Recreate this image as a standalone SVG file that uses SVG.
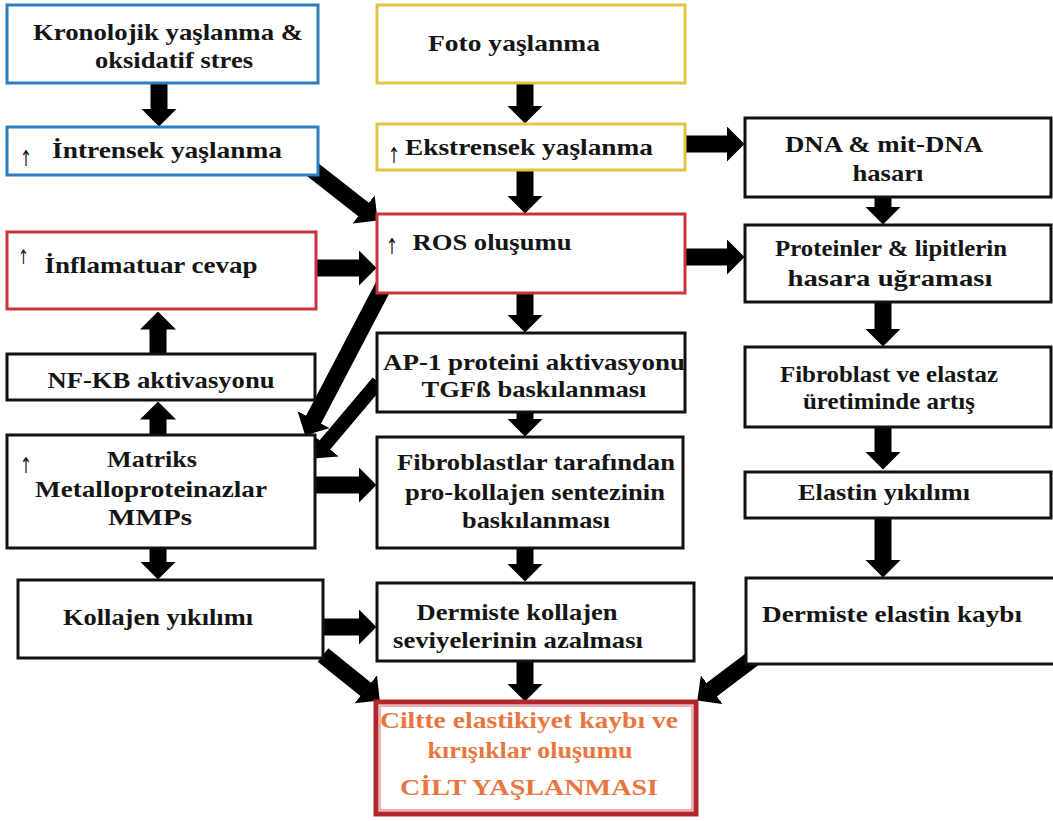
<svg xmlns="http://www.w3.org/2000/svg" width="1053" height="821" viewBox="0 0 1053 821">
<style>
.bx{fill:#fff;stroke:#111;stroke-width:3}
.blue{fill:#fff;stroke:#2d7dbf;stroke-width:3}
.yel{fill:#fff;stroke:#e3c443;stroke-width:3}
.red{fill:#fff;stroke:#c8343c;stroke-width:3}
.t{font-family:"Liberation Serif","Times New Roman",serif;font-weight:bold;font-size:23px;fill:#151515;text-anchor:middle}
.up{font-family:"DejaVu Sans",sans-serif;font-size:22px;fill:#151515}
.o{font-family:"Liberation Serif","Times New Roman",serif;font-weight:bold;font-size:23px;fill:#e8773f;text-anchor:middle}
.a{stroke:#000;stroke-width:17;fill:none;marker-end:url(#ah)}
</style>
<defs>
<marker id="ah" markerUnits="userSpaceOnUse" markerWidth="18" markerHeight="36" viewBox="0 0 18 36" refX="0.5" refY="18" orient="auto">
<path d="M0,0 L18,18 L0,36 z" fill="#000"/>
</marker>
</defs>
<rect width="1053" height="821" fill="#fff"/>

<g id="connectors">
<line class="a" x1="159" y1="83" x2="159" y2="109"/>
<line class="a" x1="525" y1="83" x2="525" y2="106"/>
<line class="a" x1="525" y1="170" x2="525" y2="196"/>
<line class="a" x1="525" y1="293" x2="525" y2="315"/>
<line class="a" x1="525" y1="412" x2="525" y2="419"/>
<line class="a" x1="525" y1="548" x2="525" y2="564"/>
<line class="a" x1="525" y1="661" x2="525" y2="684"/>
<line class="a" x1="158" y1="548" x2="158" y2="562"/>
<line class="a" x1="883" y1="197" x2="883" y2="207"/>
<line class="a" x1="883" y1="302" x2="883" y2="329"/>
<line class="a" x1="883" y1="427" x2="883" y2="452"/>
<line class="a" x1="883" y1="518" x2="883" y2="560"/>
<line class="a" x1="158" y1="353" x2="158" y2="329"/>
<line class="a" x1="158" y1="435" x2="158" y2="419"/>
<line class="a" x1="684" y1="144" x2="727" y2="144"/>
<line class="a" x1="685" y1="257" x2="727" y2="257"/>
<line class="a" x1="315" y1="268" x2="359" y2="268"/>
<line class="a" x1="315" y1="485" x2="359" y2="485"/>
<line class="a" x1="323" y1="627" x2="359" y2="627"/>
<line class="a" x1="308" y1="166" x2="363.9" y2="209.8"/>
<line class="a" x1="384" y1="285" x2="313.3" y2="420.1"/>
<line class="a" x1="378" y1="382" x2="324.6" y2="445.2" style="stroke-width:14"/>
<line class="a" x1="323" y1="655" x2="366.1" y2="689.6"/>
<line class="a" x1="755" y1="657" x2="711.3" y2="690"/>
</g>

<g id="kronolojik">
<rect class="blue" x="7" y="5" width="311" height="78"/>
<text class="t" x="168" y="40" textLength="270" lengthAdjust="spacingAndGlyphs">Kronolojik yaşlanma &amp;</text>
<text class="t" x="174" y="68" textLength="158" lengthAdjust="spacingAndGlyphs">oksidatif stres</text>
</g>
<g id="foto">
<rect class="yel" x="377" y="5" width="308" height="78"/>
<text class="t" x="514" y="51" textLength="172" lengthAdjust="spacingAndGlyphs">Foto  yaşlanma</text>
</g>
<g id="intrensek">
<rect class="blue" x="7" y="127" width="311" height="48"/>
<text class="up" x="20" y="166" textLength="12" lengthAdjust="spacingAndGlyphs">↑</text>
<text class="t" x="167" y="158" textLength="230" lengthAdjust="spacingAndGlyphs">İntrensek  yaşlanma</text>
</g>
<g id="ekstrensek">
<rect class="yel" x="377" y="124" width="308" height="46"/>
<text class="up" x="388" y="163" textLength="12" lengthAdjust="spacingAndGlyphs">↑</text>
<text class="t" x="529" y="155" textLength="248" lengthAdjust="spacingAndGlyphs">Ekstrensek yaşlanma</text>
</g>
<g id="dna">
<rect class="bx" x="745" y="118" width="306" height="79"/>
<text class="t" x="884" y="152" textLength="198" lengthAdjust="spacingAndGlyphs">DNA &amp; mit-DNA</text>
<text class="t" x="888" y="181" textLength="71" lengthAdjust="spacingAndGlyphs">hasarı</text>
</g>
<g id="ros">
<rect class="red" x="377" y="214" width="308" height="79"/>
<text class="up" x="386" y="254" textLength="12" lengthAdjust="spacingAndGlyphs">↑</text>
<text class="t" x="492" y="250" textLength="159" lengthAdjust="spacingAndGlyphs">ROS oluşumu</text>
</g>
<g id="inflamatuar">
<rect class="red" x="7" y="232" width="309" height="77"/>
<text class="up" x="18" y="264" textLength="11" lengthAdjust="spacingAndGlyphs" style="font-size:20px">↑</text>
<text class="t" x="151" y="273" textLength="213" lengthAdjust="spacingAndGlyphs">İnflamatuar cevap</text>
</g>
<g id="proteinler">
<rect class="bx" x="745" y="225" width="306" height="77"/>
<text class="t" x="891" y="256" textLength="232" lengthAdjust="spacingAndGlyphs">Proteinler &amp; lipitlerin</text>
<text class="t" x="890" y="286" textLength="205" lengthAdjust="spacingAndGlyphs">hasara uğraması</text>
</g>
<g id="nfkb">
<rect class="bx" x="7" y="354" width="308" height="46"/>
<text class="t" x="161" y="388" textLength="227" lengthAdjust="spacingAndGlyphs">NF-KB aktivasyonu</text>
</g>
<g id="ap1">
<rect class="bx" x="377" y="333" width="308" height="79"/>
<text class="t" x="534" y="370" textLength="302" lengthAdjust="spacingAndGlyphs">AP-1 proteini aktivasyonu</text>
<text class="t" x="534" y="397" textLength="225" lengthAdjust="spacingAndGlyphs">TGFß baskılanması</text>
</g>
<g id="fibroblast-elastaz">
<rect class="bx" x="745" y="347" width="306" height="80"/>
<text class="t" x="889" y="382" textLength="218" lengthAdjust="spacingAndGlyphs">Fibroblast ve elastaz</text>
<text class="t" x="889" y="409" textLength="172" lengthAdjust="spacingAndGlyphs">üretiminde artış</text>
</g>
<g id="matriks">
<rect class="bx" x="7" y="435" width="308" height="113"/>
<text class="up" x="20" y="473" textLength="12" lengthAdjust="spacingAndGlyphs">↑</text>
<text class="t" x="152" y="467" textLength="90" lengthAdjust="spacingAndGlyphs">Matriks</text>
<text class="t" x="151" y="497" textLength="232" lengthAdjust="spacingAndGlyphs">Metalloproteinazlar</text>
<text class="t" x="150" y="525" textLength="84" lengthAdjust="spacingAndGlyphs">MMPs</text>
</g>
<g id="fibroblastlar">
<rect class="bx" x="377" y="437" width="306" height="111"/>
<text class="t" x="536" y="470" textLength="278" lengthAdjust="spacingAndGlyphs">Fibroblastlar tarafından</text>
<text class="t" x="535" y="500" textLength="260" lengthAdjust="spacingAndGlyphs">pro-kollajen sentezinin</text>
<text class="t" x="536" y="528" textLength="148" lengthAdjust="spacingAndGlyphs">baskılanması</text>
</g>
<g id="elastin">
<rect class="bx" x="745" y="472" width="306" height="46"/>
<text class="t" x="884" y="500" textLength="172" lengthAdjust="spacingAndGlyphs">Elastin yıkılımı</text>
</g>
<g id="kollajen">
<rect class="bx" x="18" y="580" width="305" height="78"/>
<text class="t" x="158" y="625" textLength="190" lengthAdjust="spacingAndGlyphs">Kollajen yıkılımı</text>
</g>
<g id="dermiste-kollajen">
<rect class="bx" x="377" y="583" width="317" height="78"/>
<text class="t" x="517" y="620" textLength="201" lengthAdjust="spacingAndGlyphs">Dermiste kollajen</text>
<text class="t" x="518" y="648" textLength="250" lengthAdjust="spacingAndGlyphs">seviyelerinin azalması</text>
</g>
<g id="dermiste-elastin">
<rect class="bx" x="746" y="578" width="310" height="86"/>
<text class="t" x="892" y="622" textLength="260" lengthAdjust="spacingAndGlyphs">Dermiste elastin  kaybı</text>
</g>
<g id="cilt">
<rect x="376" y="702" width="320" height="112" fill="#fff" stroke="#b3272c" stroke-width="5"/>
<rect x="380" y="706" width="312" height="104" fill="none" stroke="#d9646a" stroke-width="1"/>
<text class="o" x="529" y="728" textLength="298" lengthAdjust="spacingAndGlyphs">Ciltte  elastikiyet kaybı ve</text>
<text class="o" x="530" y="758" textLength="205" lengthAdjust="spacingAndGlyphs">kırışıklar oluşumu</text>
<text class="o" x="529" y="795" textLength="258" lengthAdjust="spacingAndGlyphs">CİLT YAŞLANMASI</text>
</g>
</svg>
